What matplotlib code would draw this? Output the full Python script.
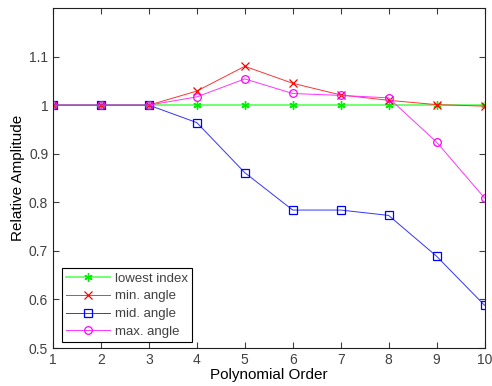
import numpy as np
import matplotlib
matplotlib.use('Agg')
import matplotlib.pyplot as plt

plt.rcParams['font.family'] = ['Liberation Sans', 'DejaVu Sans']

# data
orders = [1, 2, 3, 4, 5, 6, 7, 8, 9, 10]
lowest_index = [1.0, 1.0, 1.0, 1.0, 1.0, 1.0, 1.0, 1.0, 1.0, 1.0]
min_angle = [1.0, 1.0, 1.0, 1.029, 1.080, 1.045, 1.021, 1.010, 1.001, 0.998]
mid_angle = [1.0, 1.0, 1.0, 0.964, 0.861, 0.784, 0.784, 0.773, 0.689, 0.588]
max_angle = [1.0, 1.0, 1.0, 1.017, 1.054, 1.024, 1.020, 1.015, 0.924, 0.809]
y_ticks = [0.5, 0.6, 0.7, 0.8, 0.9, 1.0, 1.1]
y_tick_labels = ['0.5', '0.6', '0.7', '0.8', '0.9', '1', '1.1']

fig = plt.figure(figsize=(4.92, 3.86), dpi=100)
ax = fig.add_axes([53/492, 1-348/386, (484.5-53)/492, (348-8)/386])

# matlab style asterisk marker
ax.plot(orders, lowest_index, color='#66ff66', marker=(6, 2, 0), ms=6, mew=1.0,
        mec='#00ee00', lw=1.3, label='lowest index')
ax.plot(orders, min_angle, color='#ff3333', marker='x', ms=5.5, lw=0.7, mew=0.9,
        mec='#ff0000', label='min. angle')
ax.plot(orders, mid_angle, color='#3333ff', marker='s', ms=5.5, lw=0.7, mew=0.9,
        mfc='none', mec='#0000ff', label='mid. angle')
ax.plot(orders, max_angle, color='#ff33ff', marker='o', ms=5.5, lw=0.7, mew=0.9,
        mfc='none', mec='#ff00ff', label='max. angle')

ax.set_xlim(1, 10)
ax.set_ylim(0.5, 1.2)
ax.set_xticks(orders)
ax.set_yticks(y_ticks)
ax.set_yticklabels(y_tick_labels)
ax.tick_params(direction='in', top=True, right=True, length=4, labelsize=10,
               labelcolor='#404040', color='#404040', width=0.8)
for s in ax.spines.values():
    s.set_color('#202020')
    s.set_linewidth(0.8)

ax.set_xlabel('Polynomial Order', fontsize=11, color='black', labelpad=1)
ax.set_ylabel('Relative Amplitude', fontsize=11, color='black', labelpad=3)

leg = ax.legend(loc='lower left', fontsize=9.5, fancybox=False, framealpha=1,
                edgecolor='black', handlelength=3.3, handletextpad=0.35,
                borderpad=0.3, labelspacing=0.42, borderaxespad=0,
                bbox_to_anchor=(0.022, 0.018))
for t in leg.get_texts():
    t.set_color('#404040')
leg.get_frame().set_linewidth(0.8)

fig.savefig('out.png', dpi=100)
